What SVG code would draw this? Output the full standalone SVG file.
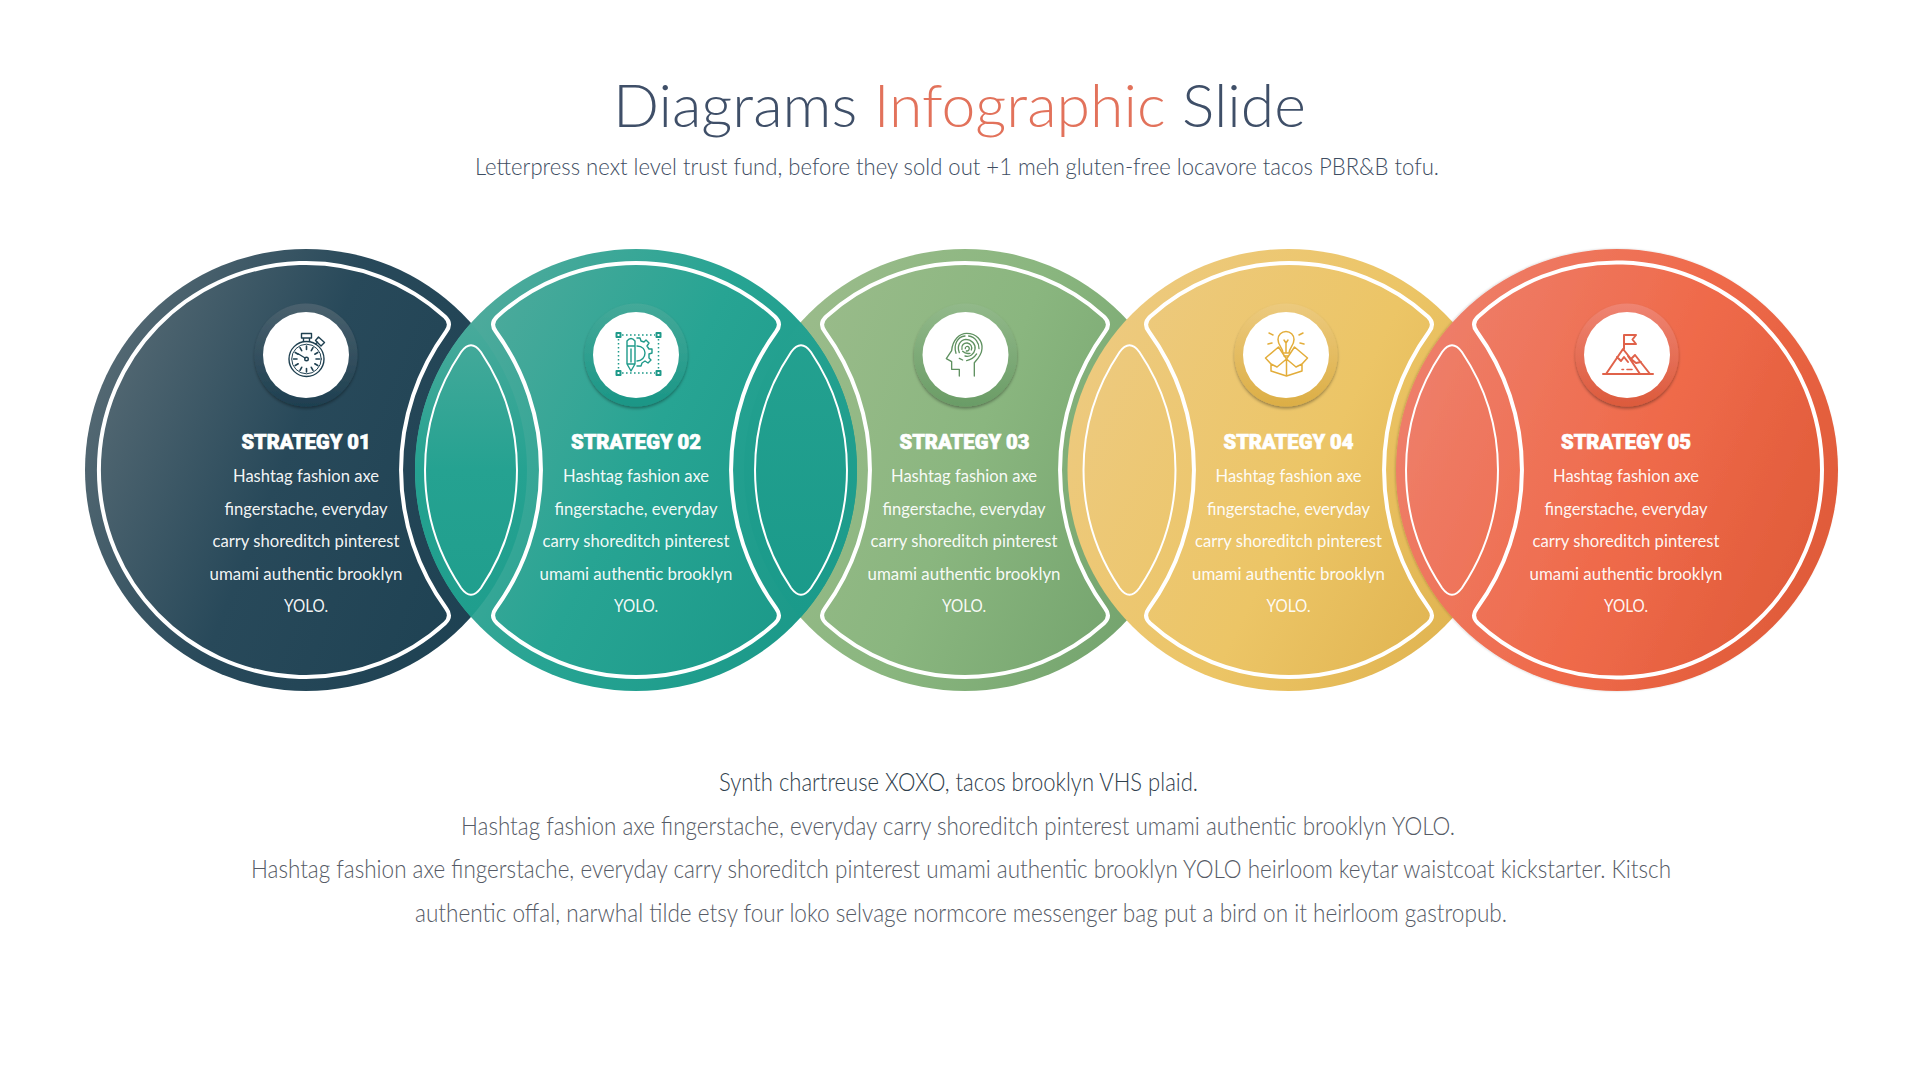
<svg xmlns="http://www.w3.org/2000/svg" width="1920" height="1080" viewBox="0 0 1920 1080">
<defs>
<linearGradient id="g1" x1="0" y1="0.3" x2="1" y2="0.7"><stop offset="0" stop-color="#566a74"/><stop offset="0.45" stop-color="#28495a"/><stop offset="1" stop-color="#1d4152"/></linearGradient>
<linearGradient id="g2" x1="0" y1="0.25" x2="1" y2="0.75"><stop offset="0" stop-color="#53ab9d"/><stop offset="0.5" stop-color="#27a493"/><stop offset="1" stop-color="#1a9888"/></linearGradient>
<linearGradient id="g3" x1="0" y1="0.3" x2="1" y2="0.7"><stop offset="0" stop-color="#9cbc8c"/><stop offset="0.5" stop-color="#8ab67f"/><stop offset="1" stop-color="#72a26c"/></linearGradient>
<linearGradient id="g4" x1="0" y1="0.25" x2="1" y2="0.75"><stop offset="0" stop-color="#edca80"/><stop offset="0.55" stop-color="#ecc566"/><stop offset="1" stop-color="#dfb24e"/></linearGradient>
<linearGradient id="g5" x1="0" y1="0.3" x2="1" y2="0.7"><stop offset="0" stop-color="#ee7f6b"/><stop offset="0.55" stop-color="#ef6a4a"/><stop offset="1" stop-color="#df5a38"/></linearGradient>
<linearGradient id="l12" x1="0" y1="0" x2="0" y2="1"><stop offset="0" stop-color="#48aa9b"/><stop offset="0.5" stop-color="#25a291"/><stop offset="1" stop-color="#1f9e8d"/></linearGradient>
<linearGradient id="l23" x1="0" y1="0" x2="0" y2="1"><stop offset="0" stop-color="#24a190"/><stop offset="1" stop-color="#1a9a8a"/></linearGradient>
<linearGradient id="r1" x1="0" y1="0" x2="0" y2="1"><stop offset="0" stop-color="#4a616e"/><stop offset="1" stop-color="#1e3f50"/></linearGradient>
<linearGradient id="r2" x1="0" y1="0" x2="0" y2="1"><stop offset="0" stop-color="#44a999"/><stop offset="1" stop-color="#1a9686"/></linearGradient>
<linearGradient id="r3" x1="0" y1="0" x2="0" y2="1"><stop offset="0" stop-color="#92b98a"/><stop offset="1" stop-color="#6a9c66"/></linearGradient>
<linearGradient id="r4" x1="0" y1="0" x2="0" y2="1"><stop offset="0" stop-color="#ecca7e"/><stop offset="1" stop-color="#dcae45"/></linearGradient>
<linearGradient id="r5" x1="0" y1="0" x2="0" y2="1"><stop offset="0" stop-color="#ef8472"/><stop offset="1" stop-color="#dc5a3c"/></linearGradient>
<filter id="sh" x="-20%" y="-20%" width="140%" height="150%"><feDropShadow dx="0" dy="2" stdDeviation="1.5" flood-color="#000" flood-opacity="0.35"/></filter>
<filter id="edge" x="-5%" y="-5%" width="110%" height="110%"><feDropShadow dx="-1" dy="0" stdDeviation="1" flood-color="#000" flood-opacity="0.18"/></filter>
<path id="mid" d="M-139,-153.3 A207 207 0 0 1 139,-153.3 Q146.25,-146.5 140.2,-138.5 A235 235 0 0 0 140.2,138.5 Q146.25,146.5 139,153.3 A207 207 0 0 1 -139,153.3 Q-146.25,146.5 -140.2,138.5 A235 235 0 0 0 -140.2,-138.5 Q-146.25,-146.5 -139,-153.3Z"/>
<path id="lens" d="M-9.9,-118 Q0,-131.5 9.9,-118 A211 211 0 0 1 9.9,118 Q0,131.5 -9.9,118 A211 211 0 0 1 -9.9,-118Z"/>
</defs>
<style>
text{font-family:"Lato","Noto Sans","Liberation Sans",sans-serif;text-anchor:middle}
.title{font-size:60px;font-weight:300;fill:#3f4f68}
.accent{fill:#e2725b}
.sub{font-size:24px;font-weight:300;fill:#3e4d62}
.h{font-family:"Roboto","Liberation Sans",sans-serif;font-weight:900;font-size:21px;fill:#fff;stroke:#fff;stroke-width:0.7}
.b{font-size:18px;font-weight:400;fill:#fff;fill-opacity:.95}
.foot1{font-size:25px;font-weight:300;fill:#2f404c}
.foot{font-size:25px;font-weight:300;fill:#565b66}
.out{fill:none;stroke:#fff;stroke-width:4}
.thin{fill:none;stroke:#fff;stroke-width:2}
.ic{fill:none;stroke-width:1.4;stroke-linecap:round;stroke-linejoin:round}
</style>
<rect width="1920" height="1080" fill="#fff"/>
<g id="heading">
<text class="title" x="959.5" y="127" textLength="693" lengthAdjust="spacingAndGlyphs">Diagrams <tspan class="accent">Infographic</tspan> Slide</text>
<text class="sub" x="957" y="175" textLength="964" lengthAdjust="spacingAndGlyphs">Letterpress next level trust fund, before they sold out +1 meh gluten-free locavore tacos PBR&amp;B tofu.</text>
</g>
<g id="node-1">
<circle cx="306" cy="470" r="221" fill="url(#g1)"/>
<path class="out" d="M445,316.7 A207 207 0 1 0 445,623.3 Q452.25,616.5 446.2,608.5 A235 235 0 0 1 446.2,331.5 Q452.25,323.5 445,316.7Z"/>
<circle cx="306" cy="355" r="51.5" fill="url(#r1)" filter="url(#sh)"/>
<circle cx="306" cy="355" r="43" fill="#fff"/>
<g class="ic" stroke="#1f4050" transform="translate(306.5,359)">
<circle r="17.5"/><circle r="14.8" style="stroke-width:1"/><circle r="1.8"/>
<path d="M-1.4,-1 L-8,-5 M-3,-17.5 V-21 H3 V-17.5 M-5,-21 V-25.5 H5 V-21 H-5 M12,-22 L18,-16.5 L14.5,-13 L9,-18.5Z M9,-15 L11,-17"/>
<path style="stroke-width:1.6" d="M0,-13 V-9.5 M0,13 V9.5 M-13,0 H-9.5 M13,0 H9.5 M6.5,-11.3 L4.8,-8.3 M-6.5,11.3 L-4.8,8.3 M11.3,-6.5 L8.3,-4.8 M-11.3,6.5 L-8.3,4.8 M6.5,11.3 L4.8,8.3 M-6.5,-11.3 L-4.8,-8.3 M11.3,6.5 L8.3,4.8 M-11.3,-6.5 L-8.3,-4.8"/>
</g>
<g>
<text class="h" x="306" y="449" textLength="129" lengthAdjust="spacingAndGlyphs">STRATEGY 01</text>
<text class="b" x="306" y="482" textLength="146" lengthAdjust="spacingAndGlyphs">Hashtag fashion axe</text>
<text class="b" x="306" y="514.5" textLength="163" lengthAdjust="spacingAndGlyphs">fingerstache, everyday</text>
<text class="b" x="306" y="547" textLength="187" lengthAdjust="spacingAndGlyphs">carry shoreditch pinterest</text>
<text class="b" x="306" y="579.5" textLength="193" lengthAdjust="spacingAndGlyphs">umami authentic brooklyn</text>
<text class="b" x="306" y="612" textLength="44" lengthAdjust="spacingAndGlyphs">YOLO.</text>
</g>
</g>
<g id="node-3">
<circle cx="965" cy="470" r="221" fill="url(#g3)"/>
<use href="#mid" class="out" transform="translate(965,470)"/>
<circle cx="965.5" cy="355" r="51.5" fill="url(#r3)" filter="url(#sh)"/>
<circle cx="965.5" cy="355" r="43" fill="#fff"/>
<g class="ic" stroke="#5f9160" transform="translate(780,300) scale(0.3333)" style="stroke-width:4">
<path d="M538,228 V208 H515 V185 L499,176 L515,152 C518,118 540,100 560,100 C590,100 608,122 606,146 C605,165 592,178 583,188 V228"/>
<path d="M528,160 C520,135 532,110 555,108 M566,108 C586,110 598,130 597,146 M590,162 C582,174 572,180 560,182 M548,180 L538,175"/>
<path d="M538,158 C530,138 540,120 557,118 C575,118 588,133 585,148 C582,163 570,172 555,168"/>
<path d="M546,148 C543,136 552,128 562,129 C572,131 578,140 574,150 M570,160 C560,162 552,158 548,154"/>
<path d="M556,146 C555,140 563,136 567,142 C570,148 565,154 559,153"/>
</g>
<g>
<text class="h" x="964.5" y="449" textLength="130" lengthAdjust="spacingAndGlyphs">STRATEGY 03</text>
<text class="b" x="964" y="482" textLength="146" lengthAdjust="spacingAndGlyphs">Hashtag fashion axe</text>
<text class="b" x="964" y="514.5" textLength="163" lengthAdjust="spacingAndGlyphs">fingerstache, everyday</text>
<text class="b" x="964" y="547" textLength="187" lengthAdjust="spacingAndGlyphs">carry shoreditch pinterest</text>
<text class="b" x="964" y="579.5" textLength="193" lengthAdjust="spacingAndGlyphs">umami authentic brooklyn</text>
<text class="b" x="964" y="612" textLength="44" lengthAdjust="spacingAndGlyphs">YOLO.</text>
</g>
</g>
<g id="node-2">
<circle cx="636" cy="470" r="221" fill="url(#g2)"/>
<use href="#mid" class="out" transform="translate(636,470)"/>
<circle cx="636" cy="355" r="51.5" fill="url(#r2)" filter="url(#sh)"/>
<circle cx="636" cy="355" r="43" fill="#fff"/>
<g class="ic" stroke="#1f9a8a">
<path style="stroke-width:2" d="M616.5,333 h4 v4 h-4Z M656.5,333 h4 v4 h-4Z M616.5,371 h4 v4 h-4Z M656.5,371 h4 v4 h-4Z"/>
<path style="stroke-width:1.5;stroke-linecap:butt" stroke-dasharray="1.6 2.4" d="M622,335 H655 M622,373 H655 M618.5,339 V370 M658.5,339 V370"/>
<path d="M627,341 Q631,336 635,341 V364 L631,371 L627,364Z M627,346 H635 M627,364 H635 M631,349 V362"/>
<path d="M637,338 L640,338 L641,341 L644,342 L646,340 L649,343 L647,346 L649,349 L652,349 V353 L649,354 L649,358 L651,360 L648,363 L645,361 L642,363 L641,366 L637,366 M637,346 C643,346 645,350 645,353 C645,357 642,361 637,361"/>
</g>
<g>
<text class="h" x="636" y="449" textLength="130" lengthAdjust="spacingAndGlyphs">STRATEGY 02</text>
<text class="b" x="636" y="482" textLength="146" lengthAdjust="spacingAndGlyphs">Hashtag fashion axe</text>
<text class="b" x="636" y="514.5" textLength="163" lengthAdjust="spacingAndGlyphs">fingerstache, everyday</text>
<text class="b" x="636" y="547" textLength="187" lengthAdjust="spacingAndGlyphs">carry shoreditch pinterest</text>
<text class="b" x="636" y="579.5" textLength="193" lengthAdjust="spacingAndGlyphs">umami authentic brooklyn</text>
<text class="b" x="636" y="612" textLength="44" lengthAdjust="spacingAndGlyphs">YOLO.</text>
</g>
</g>
<g id="node-4">
<circle cx="1288.5" cy="470" r="221" fill="url(#g4)"/>
<use href="#mid" class="out" transform="translate(1289,470)"/>
<circle cx="1286" cy="355" r="51.5" fill="url(#r4)" filter="url(#sh)"/>
<circle cx="1286" cy="355" r="43" fill="#fff"/>
<g class="ic" stroke="#e3ad3a" style="stroke-width:1.5">
<path d="M1283,353 C1283,348 1278,346 1278,339.5 A8,8 0 0 1 1294,339.5 C1294,346 1289,348 1289,353 Z M1283,353 H1289 M1284,356 H1288 M1284,340 L1286,343 L1288,340 M1286,343 V352"/>
<path d="M1273,335 L1269,333 M1299,335 L1303,333 M1272,343 L1268,344 M1300,343 L1304,344"/>
<path d="M1286.5,359 L1278.5,347 L1265.5,358 L1271,364 V371 L1286.5,376 L1302,371 V364 L1307.5,358 L1294.5,347 L1286.5,359 V376 M1271,364 L1277,367 L1286.5,359 L1296,367 L1302,364"/>
</g>
<g>
<text class="h" x="1288.5" y="449" textLength="130" lengthAdjust="spacingAndGlyphs">STRATEGY 04</text>
<text class="b" x="1288.5" y="482" textLength="146" lengthAdjust="spacingAndGlyphs">Hashtag fashion axe</text>
<text class="b" x="1288.5" y="514.5" textLength="163" lengthAdjust="spacingAndGlyphs">fingerstache, everyday</text>
<text class="b" x="1288.5" y="547" textLength="187" lengthAdjust="spacingAndGlyphs">carry shoreditch pinterest</text>
<text class="b" x="1288.5" y="579.5" textLength="193" lengthAdjust="spacingAndGlyphs">umami authentic brooklyn</text>
<text class="b" x="1288.5" y="612" textLength="44" lengthAdjust="spacingAndGlyphs">YOLO.</text>
</g>
</g>
<g id="node-5">
<circle cx="1617" cy="470" r="221" fill="url(#g5)" filter="url(#edge)"/>
<path class="out" d="M1478,316.7 A205.5 207.5 0 1 1 1478,623.3 Q1470.75,616.5 1476.8,608.5 A235 235 0 0 0 1476.8,331.5 Q1470.75,323.5 1478,316.7Z"/>
<circle cx="1627" cy="355" r="51.5" fill="url(#r5)" filter="url(#sh)"/>
<circle cx="1627" cy="355" r="43" fill="#fff"/>
<g class="ic" stroke="#e0624a" style="stroke-width:2">
<path d="M1603,374 H1653 M1606,374 L1623,349 L1631,359 L1635,355 L1650,374 M1628,356 L1640,374 M1624,335 V349 M1624,335 H1636 L1632.5,339.5 L1636,344 H1624 M1617,357 L1621,361 L1624,357 L1628,362 M1631,359 L1636,363 L1641,362"/>
<path style="stroke-width:1.6" d="M1622,369.5 H1623.5 M1627,369.5 H1632"/>
</g>
<g>
<text class="h" x="1626" y="449" textLength="130" lengthAdjust="spacingAndGlyphs">STRATEGY 05</text>
<text class="b" x="1626" y="482" textLength="146" lengthAdjust="spacingAndGlyphs">Hashtag fashion axe</text>
<text class="b" x="1626" y="514.5" textLength="163" lengthAdjust="spacingAndGlyphs">fingerstache, everyday</text>
<text class="b" x="1626" y="547" textLength="187" lengthAdjust="spacingAndGlyphs">carry shoreditch pinterest</text>
<text class="b" x="1626" y="579.5" textLength="193" lengthAdjust="spacingAndGlyphs">umami authentic brooklyn</text>
<text class="b" x="1626" y="612" textLength="44" lengthAdjust="spacingAndGlyphs">YOLO.</text>
</g>
</g>
<g id="connectors">
<path d="M471,323 A221 221 0 0 0 471,617 A221 221 0 0 0 471,323Z" fill="url(#l12)"/>
<path d="M800.5,322.4 A221 221 0 0 1 800.5,617.6 A221 221 0 0 1 800.5,322.4Z" fill="url(#l23)"/>
<use href="#lens" class="thin" transform="translate(471,470)"/>
<use href="#lens" class="thin" transform="translate(801,470)"/>
<use href="#lens" class="thin" transform="translate(1129.5,470)"/>
<use href="#lens" class="thin" transform="translate(1452,470)"/>
</g>
<g id="footer">
<text class="foot1" x="958.5" y="791" textLength="479" lengthAdjust="spacingAndGlyphs">Synth chartreuse XOXO, tacos brooklyn VHS plaid.</text>
<text class="foot" x="958" y="835" textLength="994" lengthAdjust="spacingAndGlyphs">Hashtag fashion axe fingerstache, everyday carry shoreditch pinterest umami authentic brooklyn YOLO.</text>
<text class="foot" x="961" y="878" textLength="1420" lengthAdjust="spacingAndGlyphs">Hashtag fashion axe fingerstache, everyday carry shoreditch pinterest umami authentic brooklyn YOLO heirloom keytar waistcoat kickstarter. Kitsch</text>
<text class="foot" x="961" y="922" textLength="1092" lengthAdjust="spacingAndGlyphs">authentic offal, narwhal tilde etsy four loko selvage normcore messenger bag put a bird on it heirloom gastropub.</text>
</g>
</svg>
